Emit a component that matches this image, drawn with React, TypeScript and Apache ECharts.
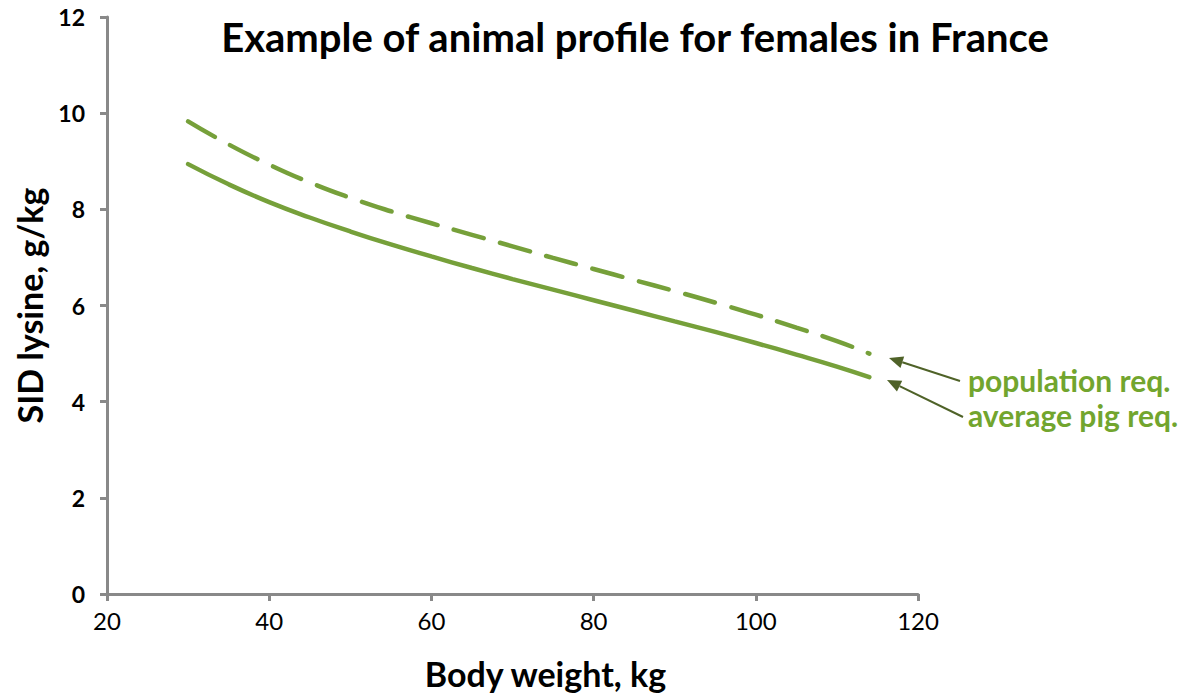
import React, { useEffect, useRef } from "react";
import * as echarts from "echarts";

const weights = [30, 35, 40, 45, 50, 55, 60, 65, 70, 75, 80, 85, 90, 95, 100, 105, 110, 114];
const averagePigReq = [8.94, 8.52, 8.15, 7.83, 7.54, 7.27, 7.02, 6.78, 6.55, 6.33, 6.11, 5.89, 5.67, 5.45, 5.22, 4.98, 4.73, 4.51];
const populationReq = [9.83, 9.35, 8.93, 8.56, 8.24, 7.96, 7.71, 7.47, 7.23, 6.99, 6.76, 6.53, 6.3, 6.06, 5.81, 5.54, 5.26, 5.0];

const TITLE = "Example of animal profile for females in France";
const X_NAME = "Body weight, kg";
const Y_NAME = "SID lysine, g/kg";
const LABEL_POP = "population req.";
const LABEL_AVG = "average pig req.";

const LINE_COLOR = "#76A03A";
const TEXT_GREEN = "#72A52E";
const ARROW_COLOR = "#4F6228";
const AXIS_COLOR = "#898989";
const FONT = "Lato, 'Open Sans', sans-serif";

export default function App() {
  const ref = useRef<HTMLDivElement>(null);
  useEffect(() => {
    if (!ref.current) return;
    const chart = echarts.init(ref.current, undefined, { renderer: "svg" });
    const arrow = (x1: number, y1: number, x2: number, y2: number) => {
      const dx = x2 - x1, dy = y2 - y1;
      const len = Math.sqrt(dx * dx + dy * dy);
      const ux = dx / len, uy = dy / len;
      const hl = 14, hw = 6;
      const bx = x2 - ux * hl, by = y2 - uy * hl;
      return [
        { type: "line", shape: { x1, y1, x2: bx, y2: by }, style: { stroke: ARROW_COLOR, lineWidth: 2 } },
        {
          type: "polygon",
          shape: { points: [[x2, y2], [bx - uy * hw, by + ux * hw], [bx + uy * hw, by - ux * hw]] },
          style: { fill: ARROW_COLOR },
        },
      ];
    };
    chart.setOption({
      animation: false,
      textStyle: { fontFamily: FONT },
      title: {
        text: TITLE,
        left: 630,
        top: 12,
        textAlign: "center",
        textStyle: { fontFamily: FONT, fontWeight: "bold", fontSize: 40, color: "#000" },
      },
      grid: { left: 107, top: 17, right: 277, bottom: 100, containLabel: false },
      xAxis: {
        type: "value",
        min: 20,
        max: 120,
        interval: 20,
        name: X_NAME,
        nameLocation: "middle",
        nameGap: 62,
        nameTextStyle: { fontFamily: FONT, fontWeight: "bold", fontSize: 34, color: "#000", padding: [0, 0, 0, 66] },
        axisLine: { show: true, onZero: false, lineStyle: { color: AXIS_COLOR, width: 3 } },
        axisTick: { show: true, length: 7, lineStyle: { color: AXIS_COLOR, width: 3 } },
        axisLabel: { fontFamily: FONT, fontSize: 24, color: "#000", margin: 14 },
        splitLine: { show: false },
      },
      yAxis: {
        type: "value",
        min: 0,
        max: 12,
        interval: 2,
        name: Y_NAME,
        nameLocation: "middle",
        nameGap: 61,
        nameTextStyle: { fontFamily: FONT, fontWeight: "bold", fontSize: 34, color: "#000" },
        axisLine: { show: true, lineStyle: { color: AXIS_COLOR, width: 3 } },
        axisTick: { show: true, length: 7, lineStyle: { color: AXIS_COLOR, width: 3 } },
        axisLabel: { fontFamily: FONT, fontWeight: "bold", fontSize: 23, color: "#000", margin: 22 },
        splitLine: { show: false },
      },
      series: [
        {
          name: "population req.",
          type: "line",
          data: weights.map((w, i) => [w, populationReq[i]]),
          smooth: true,
          showSymbol: false,
          lineStyle: { color: LINE_COLOR, width: 4.5, type: [31, 17], cap: "round" },
        },
        {
          name: "average pig req.",
          type: "line",
          data: weights.map((w, i) => [w, averagePigReq[i]]),
          smooth: true,
          showSymbol: false,
          lineStyle: { color: LINE_COLOR, width: 4.5, cap: "round" },
        },
      ],
      graphic: [
        ...arrow(960, 381, 889, 358),
        ...arrow(963, 417, 887, 380),
        {
          type: "text",
          x: 968,
          y: 380,
          style: { text: LABEL_POP, fontFamily: FONT, fontWeight: "bold", fontSize: 30, fill: TEXT_GREEN, verticalAlign: "middle" },
        },
        {
          type: "text",
          x: 968,
          y: 415,
          style: { text: LABEL_AVG, fontFamily: FONT, fontWeight: "bold", fontSize: 30, fill: TEXT_GREEN, verticalAlign: "middle" },
        },
      ],
    });
    return () => chart.dispose();
  }, []);
  return <div ref={ref} style={{ width: 1195, height: 695, position: "absolute", left: 0, top: 0 }} />;
}
